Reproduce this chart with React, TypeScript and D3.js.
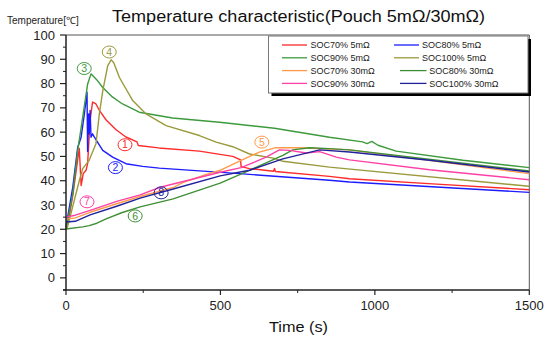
import React from "react";
import * as d3 from "d3";

// ---- data: [time (s), temperature (°C)] ----
const soc70_5: [number, number][] = [[0,21],[10,25],[22,34],[35,46],[43,53.3],[49,38],[56,43],[65,44.3],[70,47],[78,64.8],[86,72.4],[97,71.6],[108,69],[130,65],[162,61],[194,58],[230,56],[234,54.5],[300,53.5],[432,52.2],[540,50],[565,48.6],[567,45.8],[594,45],[672,43.9],[675,45],[678,43.8],[853,41.8],[918,40.8],[1200,38.6],[1500,36.3]];
const soc80_5: [number, number][] = [[0,21],[22,37.4],[38,53.8],[49,57.9],[60,68],[68,76.4],[70,52],[73,67.5],[75,59.3],[78,68.9],[81,57.9],[86,59.3],[92,57.9],[102,55.9],[119,52.5],[151,49.7],[194,47],[248,45.9],[302,45.2],[562,42.9],[853,40.2],[918,39.5],[1500,35.2]];
const soc90_5: [number, number][] = [[0,20],[22,34.7],[38,52.5],[54,66.1],[70,79.8],[81,84],[100,81.5],[119,78.4],[150,74.5],[183,71.6],[237,68.2],[345,65.8],[497,64.1],[675,61.6],[853,57.9],[960,56],[975,55.3],[990,56.2],[1010,54.6],[1069,52.2],[1285,48.4],[1500,45.4]];
const soc100_5: [number, number][] = [[0,20],[5,21],[27,32],[43,40],[54,45],[75,48.4],[97,55.2],[108,67.5],[119,77],[135,87.3],[146,89.8],[155,88.5],[173,82.5],[216,73],[259,67.5],[324,62.7],[432,58.6],[486,55.9],[540,54],[594,51],[675,49.2],[702,48],[853,45.6],[1500,37.7]];
const soc70_30: [number, number][] = [[0,24.2],[30,24.7],[78,27],[164,30.5],[240,33.5],[347,37.2],[378,39.2],[454,42.6],[499,44.3],[567,48.4],[626,51.8],[680,53.6],[756,53.6],[918,52.7],[1500,42.9]];
const soc80_30: [number, number][] = [[0,20.1],[54,21],[75,21.5],[100,22.5],[130,24.3],[180,26.8],[240,29.2],[347,32.5],[499,39],[594,44.3],[702,50.4],[734,52.7],[788,53.6],[853,53.2],[918,52.7],[1500,44]];
const soc90_30: [number, number][] = [[0,25],[30,25.8],[78,27.8],[164,31.5],[240,34.2],[305,37.3],[499,43.5],[567,45.4],[648,49.7],[691,52.7],[724,52.5],[778,51.4],[821,52],[875,49.7],[918,48.6],[1177,44.5],[1500,40.4]];
const soc100_30: [number, number][] = [[0,23],[30,23.3],[78,25.9],[164,29.5],[240,32.8],[347,36.6],[499,42],[594,44.3],[702,49],[821,52.7],[918,51.8],[1177,48.4],[1500,43.6]];

const seriesNames = ["SOC70% 5mΩ","SOC80% 5mΩ","SOC90% 5mΩ","SOC100% 5mΩ","SOC70% 30mΩ","SOC80% 30mΩ","SOC90% 30mΩ","SOC100% 30mΩ"];
const seriesData = [soc70_5, soc80_5, soc90_5, soc100_5, soc70_30, soc80_30, soc90_30, soc100_30];
const seriesColors = ["#ff2b2b","#1c1cff","#3d9a3d","#9a9a3c","#ff9a4a","#3f8f35","#ff40a6","#21219c"];

// circled markers: label, time, temperature, series index
const markerLabels = ["1","2","3","4","5","6","7","8"];
const markerT = [191,160,59,140,634,224,68,308];
const markerV = [54.8,45.4,86.2,93,55.9,25.5,31.3,35];
const markerSeries = [0,1,2,3,4,5,6,7];

const yMajor = [0,10,20,30,40,50,60,70,80,90,100];
const yMinor = [-5,5,15,25,35,45,55,65,75,85,95];
const xMajor = [0,500,1000,1500];
const xMinor = [250,750,1250];

const FONT = "'Liberation Sans', Arial, Helvetica, sans-serif";

export default function App() {
  const x = d3.scaleLinear().domain([0, 1500]).range([66, 529.3]);
  const y = d3.scaleLinear().domain([-5, 100]).range([290, 35]);
  const line = d3.line<[number, number]>().x(d => x(d[0])).y(d => y(d[1]));

  const legX = 268.5, legY = 36, legW = 259.5, legH = 57;
  const rowY = (i: number) => 45 + i * 12.8;

  return (
    <svg width={550} height={340} style={{ position: "absolute", left: 0, top: 0, background: "#fff" }} fontFamily={FONT}>
      <rect width={550} height={340} fill="#fff" />
      {/* title */}
      <text x={298.5} y={22} fontSize={16} textAnchor="middle" fill="#111" textLength={373} lengthAdjust="spacingAndGlyphs">
        Temperature characteristic(Pouch 5mΩ/30mΩ)
      </text>
      <text x={7} y={24} fontSize={10} fill="#222">Temperature[℃]</text>

      {/* frame */}
      <line x1={x(0)} x2={x(1500)} y1={y(100)} y2={y(100)} stroke="#555" strokeWidth={1} />
      <line x1={x(1500)} x2={x(1500)} y1={y(100)} y2={y(-5)} stroke="#555" strokeWidth={1} />

      {/* series */}
      {seriesData.map((d, i) => (
        <path key={i} d={line(d) || ""} fill="none" stroke={seriesColors[i]} strokeWidth={1.4} strokeLinejoin="round" />
      ))}

      {/* axes */}
      <line x1={x(0)} x2={x(0)} y1={y(100)} y2={y(-5)} stroke="#222" strokeWidth={1.5} />
      <line x1={x(0) - 3} x2={x(1500)} y1={y(-5)} y2={y(-5)} stroke="#222" strokeWidth={1.5} />
      {yMajor.map(v => (
        <g key={"ym" + v}>
          <line x1={x(0) - 6} x2={x(0)} y1={y(v)} y2={y(v)} stroke="#222" strokeWidth={1.2} />
          <text x={55} y={y(v) + 4.5} fontSize={13} textAnchor="end" fill="#222">{v}</text>
        </g>
      ))}
      {yMinor.map(v => (
        <line key={"yn" + v} x1={x(0) - 3} x2={x(0)} y1={y(v)} y2={y(v)} stroke="#222" strokeWidth={1} />
      ))}
      {xMajor.map(v => (
        <g key={"xm" + v}>
          <line x1={x(v)} x2={x(v)} y1={y(-5)} y2={y(-5) + 5} stroke="#222" strokeWidth={1.2} />
          <text x={x(v)} y={309.5} fontSize={13} textAnchor="middle" fill="#222">{v}</text>
        </g>
      ))}
      {xMinor.map(v => (
        <line key={"xn" + v} x1={x(v)} x2={x(v)} y1={y(-5)} y2={y(-5) + 3} stroke="#222" strokeWidth={1} />
      ))}
      <text x={298.5} y={331.5} fontSize={15} textAnchor="middle" fill="#111" textLength={59} lengthAdjust="spacingAndGlyphs">Time (s)</text>

      {/* circled markers */}
      {markerLabels.map((lab, i) => {
        const c = seriesColors[markerSeries[i]];
        const cx = x(markerT[i]), cy = y(markerV[i]);
        return (
          <g key={"mk" + i}>
            <ellipse cx={cx} cy={cy} rx={7} ry={6} fill="none" stroke={c} strokeWidth={1} />
            <text x={cx} y={cy + 3.6} fontSize={10.5} textAnchor="middle" fill={c}>{lab}</text>
          </g>
        );
      })}

      {/* legend */}
      <rect x={legX + 3} y={legY + 3} width={legW} height={legH} fill="#000" />
      <rect x={legX} y={legY} width={legW} height={legH} fill="#fff" stroke="#777" strokeWidth={1} />
      {seriesNames.map((name, i) => {
        const row = Math.floor(i / 2);
        const col = i % 2;
        const yy = rowY(row);
        const lx1 = col === 0 ? 282 : (row < 2 ? 394 : 400);
        const lx2 = col === 0 ? 307 : (row < 2 ? 419 : 426.5);
        const tx = col === 0 ? 310.5 : (row < 2 ? 422 : 429.3);
        return (
          <g key={"lg" + i}>
            <line x1={lx1} x2={lx2} y1={yy} y2={yy} stroke={seriesColors[i]} strokeWidth={1.3} />
            <text x={tx} y={yy + 3.3} fontSize={9} fill="#222">{name}</text>
          </g>
        );
      })}
    </svg>
  );
}
